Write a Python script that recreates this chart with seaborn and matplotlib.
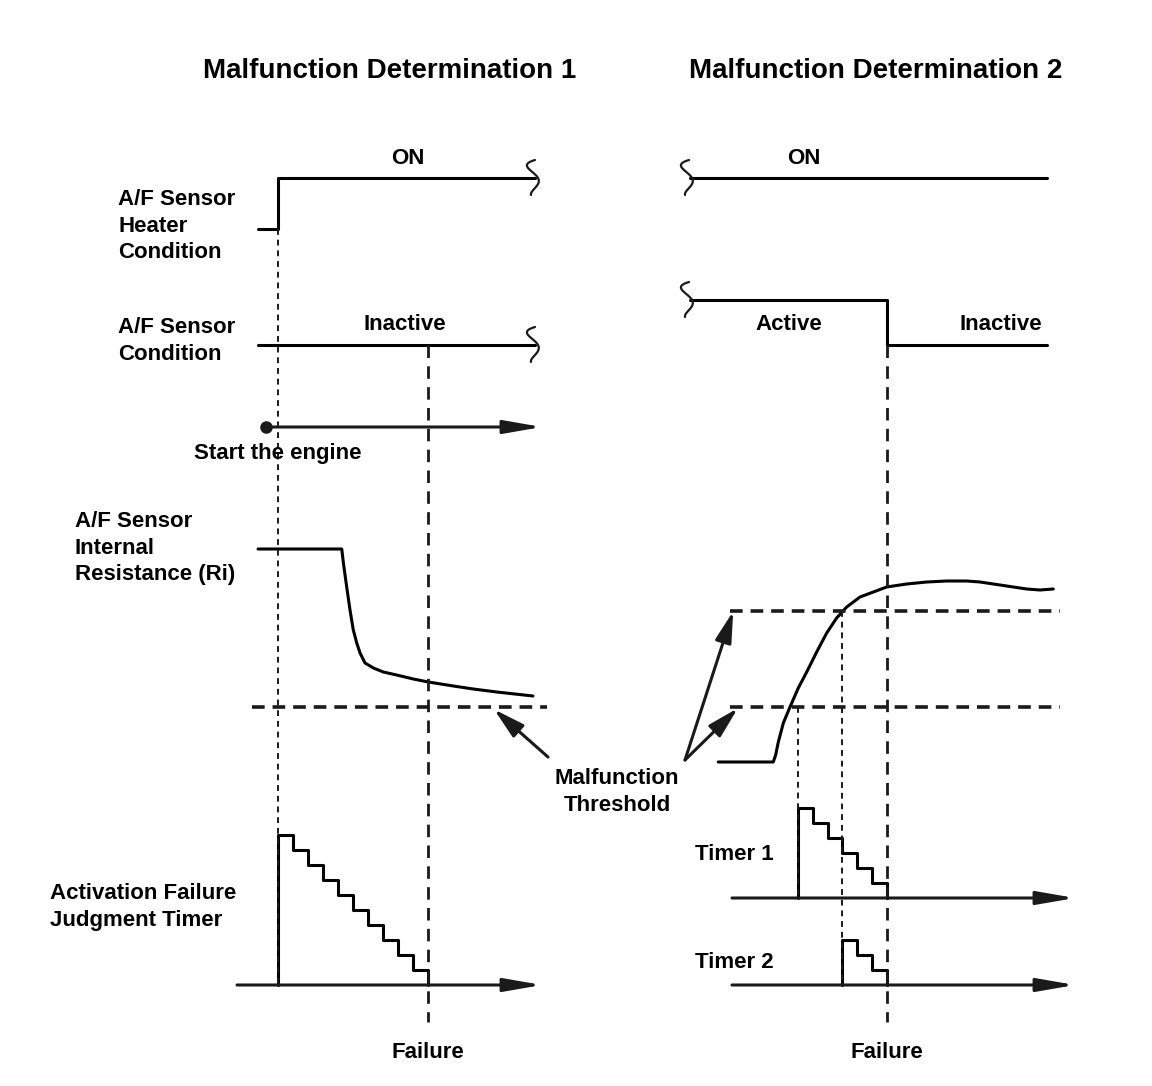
import numpy as np
import seaborn as sns
import matplotlib.pyplot as plt

sns.set_theme(style='white')
plt.rcParams['font.family'] = ['Liberation Sans', 'DejaVu Sans']
plt.rcParams['font.weight'] = 'bold'
plt.rcParams['text.color'] = 'black'

# ---- Malfunction Determination 1 (t in timer counts, t=0 engine start) ----
heater1_t = [-1.33, 0, 0, 17.1]
heater1_lvl = [0, 0, 1, 1]
cond1_t = [-1.33, 17.1]
cond1_lvl = [0, 0]
ri1_t = [-1.33, 4.25, 4.36, 4.58, 4.8, 5.02, 5.25, 5.47, 5.8, 6.36, 7.02,
         7.91, 9.02, 10.02, 11.69, 13.02, 14.58, 17.0]
ri1 = [25.1, 25.1, 23.7, 21.3, 19.0, 17.0, 15.7, 14.7, 13.7, 13.2, 12.8,
       12.5, 12.1, 11.8, 11.4, 11.1, 10.8, 10.4]
timer_t = [0, 0, 1, 2, 3, 4, 5, 6, 7, 8, 9, 10]
timer_cnt = [0, 10, 9, 8, 7, 6, 5, 4, 3, 2, 1, 0]
fail1_t = 10

# ---- Malfunction Determination 2 (t=0 Ri passes threshold 1) ----
heater2_t = [-7.3, 16.8]
heater2_lvl = [1, 1]
cond2_t = [-7.3, 6, 6, 16.8]
cond2_lvl = [1, 1, 0, 0]
ri2_t = [-5.39, -1.67, -1.51, -1.33, -0.99, -0.54, 0.02, 0.59, 1.26, 1.94,
         2.61, 3.29, 4.19, 5.09, 5.99, 7.34, 8.70, 10.05, 11.40, 12.30,
         13.65, 14.55, 15.45, 16.35, 17.25]
ri2 = [3.8, 3.8, 4.5, 5.8, 7.7, 9.3, 11.2, 12.8, 14.8, 16.7,
       18.2, 19.3, 20.3, 20.8, 21.3, 21.6, 21.8, 21.9, 21.9, 21.8,
       21.5, 21.3, 21.1, 21.0, 21.1]
tm1_t = [0, 0, 1, 2, 3, 4, 5, 6]
tm1_cnt = [0, 6, 5, 4, 3, 2, 1, 0]
tm2_t = [3, 3, 4, 5, 6]
tm2_cnt = [0, 3, 2, 1, 0]
fail2_t = 6

thr_low = 9.3
thr_high = 18.9

# ---- layout (pixels) ----
def x1(t):
    return 278 + 15 * np.asarray(t, float)

def x2(t):
    return 798 + 14.8 * np.asarray(t, float)

def heater_y(v):
    return 229 - 51 * np.asarray(v, float)

def cond_y(v):
    return 345 - 45 * np.asarray(v, float)

def ri_y(v):
    return 800 - 10 * np.asarray(v, float)

def timer_y(base, v):
    return base - 15 * np.asarray(v, float)

fig = plt.figure(figsize=(11.52, 10.86), dpi=100)
ax = fig.add_axes([0, 0, 1, 1])

def trace(x, y, **kw):
    sns.lineplot(x=x, y=y, ax=ax, estimator=None, sort=False,
                 color='black', linewidth=2.2, **kw)

# signals
trace(x1(heater1_t), heater_y(heater1_lvl))
trace(x1(cond1_t), cond_y(cond1_lvl))
trace(x1(ri1_t), ri_y(ri1))
trace(x1(timer_t), timer_y(985, timer_cnt), drawstyle='steps-post')

trace(x2(heater2_t), heater_y(heater2_lvl))
trace(x2(cond2_t), cond_y(cond2_lvl))
trace(x2(ri2_t), ri_y(ri2))
trace(x2(tm1_t), timer_y(898, tm1_cnt), drawstyle='steps-post')
trace(x2(tm2_t), timer_y(985, tm2_cnt), drawstyle='steps-post')

# thresholds
ax.plot(x1([-1.73, 17.93]), ri_y([thr_low] * 2), color='k', lw=2.6, dashes=(3.5, 2.2))
ax.plot(x2([-4.59, 17.7]), ri_y([thr_low] * 2), color='k', lw=2.6, dashes=(3.5, 2.2))
ax.plot(x2([-4.59, 17.7]), ri_y([thr_high] * 2), color='k', lw=2.6, dashes=(3.5, 2.2))

# guide lines
dot = dict(color='k', lw=1.4, dashes=(3, 2.5))
ax.plot([x1(0)] * 2, [heater_y(0), 985], **dot)
ax.plot([x2(0)] * 2, [ri_y(thr_low), 898], **dot)
ax.plot([x2(3)] * 2, [ri_y(thr_high), 985], **dot)
dash = dict(color='k', lw=2, dashes=(4.5, 3))
ax.plot([x1(fail1_t)] * 2, [cond_y(0), 1022], **dash)
ax.plot([x2(fail2_t)] * 2, [cond_y(0), 1022], **dash)

# break marks
sq_coef = np.polyfit([-18, -8, 0, 10, 17], [1, -4, 4, 1, -3], 4)
def squiggle(x, y):
    dy = np.linspace(-18, 17, 50)
    ax.plot(x + np.polyval(sq_coef, dy), y + dy, color='k', lw=1.6)

squiggle(534, float(heater_y(1)))
squiggle(534, float(cond_y(0)))
squiggle(688, float(heater_y(1)))
squiggle(688, float(cond_y(1)))

# arrows (tip pushed a few px forward to meet the reference end point)
def arrow(tail, tip, hl=1.15, hw=0.2, extra=7):
    tail = np.array(tail, float)
    tip = np.array(tip, float)
    d = (tip - tail) / np.hypot(*(tip - tail))
    tip = tip + extra * d
    ax.annotate('', xy=tuple(tip), xytext=tuple(tail),
                arrowprops=dict(arrowstyle=f'-|>,head_length={hl},head_width={hw}',
                                color='k', lw=2.2, mutation_scale=20,
                                shrinkA=0, shrinkB=0))

arrow((x1(-0.8), 427), (x1(17.13), 427))
ax.plot(x1(-0.8), 427, 'o', color='k', ms=8)
arrow((x1(-2.73), 985), (x1(17.13), 985))
arrow((x2(-4.46), 898), (x2(18.24), 898))
arrow((x2(-4.46), 985), (x2(18.24), 985))
arrow((548, 757), (497, 712), hl=0.95, hw=0.25, extra=4)
arrow((685, 760), (732, 615), hl=0.95, hw=0.25, extra=4)
arrow((685, 760), (735, 711), hl=0.95, hw=0.25, extra=4)

# text
ax.text(390, 71, 'Malfunction Determination 1', fontsize=20, ha='center', va='center')
ax.text(876, 71, 'Malfunction Determination 2', fontsize=20, ha='center', va='center')
lab = dict(fontsize=16, va='center', ha='left', linespacing=1.32)
ax.text(118, 226, 'A/F Sensor\nHeater\nCondition', **lab)
ax.text(118, 341, 'A/F Sensor\nCondition', **lab)
ax.text(75, 548, 'A/F Sensor\nInternal\nResistance (Ri)', **lab)
ax.text(50, 907, 'Activation Failure\nJudgment Timer', **lab)
ax.text(695, 854, 'Timer 1', **lab)
ax.text(695, 962, 'Timer 2', **lab)
mid = dict(fontsize=16, va='center', ha='center')
ax.text(408, 158, 'ON', **mid)
ax.text(804, 158, 'ON', **mid)
ax.text(405, 324, 'Inactive', **mid)
ax.text(789, 325, 'Active', **mid)
ax.text(1001, 324, 'Inactive', **mid)
ax.text(278, 454, 'Start the engine', **mid)
ax.text(617, 792, 'Malfunction\nThreshold', linespacing=1.32, **mid)
ax.text(x1(fail1_t), 1052, 'Failure', **mid)
ax.text(x2(fail2_t), 1052, 'Failure', **mid)

ax.set_xlim(0, 1152)
ax.set_ylim(1086, 0)
ax.axis('off')
fig.savefig('out.png', dpi=100, facecolor='white')
